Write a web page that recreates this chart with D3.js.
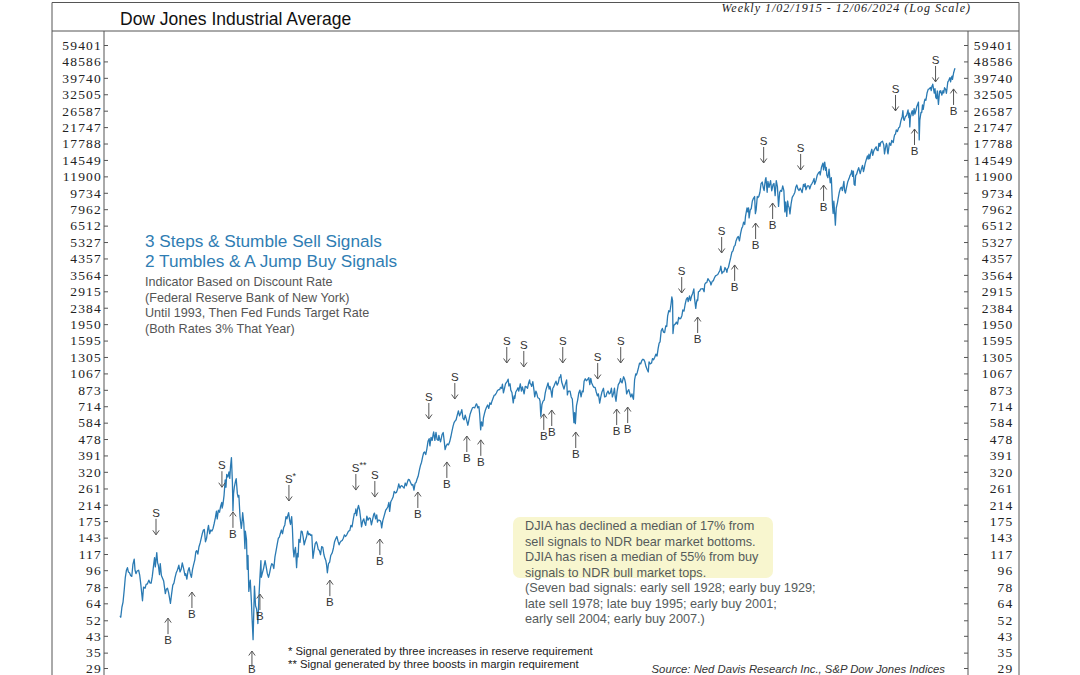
<!DOCTYPE html>
<html><head><meta charset="utf-8">
<script src="https://cdn.jsdelivr.net/npm/d3@7"></script>
<style>body{margin:0;background:#fff}svg{display:block}</style>
</head><body>
<svg id="c" width="1080" height="675"></svg>
<script>
const yTickLabels = [59401,48586,39740,32505,26587,21747,17788,14549,11900,9734,7962,6512,5327,4357,3564,2915,2384,1950,1595,1305,1067,873,714,584,478,391,320,261,214,175,143,117,96,78,64,52,43,35,29];

const djiaEarly = [
[1915.0,55],[1915.1,54],[1915.25,61],[1915.4,65],[1915.55,75],[1915.7,88],[1915.85,96],[1915.98,99],
[1916.1,94],[1916.25,93],[1916.4,90],[1916.55,89],[1916.7,103],[1916.87,110],[1916.98,96],
[1917.1,92],[1917.25,95],[1917.45,96],[1917.6,90],[1917.75,80],[1917.96,66],
[1918.1,78],[1918.3,77],[1918.45,81],[1918.6,81],[1918.8,85],[1918.95,82],
[1919.1,82],[1919.25,89],[1919.45,104],[1919.55,112],[1919.65,100],[1919.84,119],[1919.95,105],
[1920.05,102],[1920.2,91],[1920.3,104],[1920.45,90],[1920.6,87],[1920.75,84],[1920.97,72],
[1921.1,76],[1921.25,77],[1921.4,73],[1921.5,69],[1921.64,64],[1921.8,72],[1921.95,80],
[1922.1,82],[1922.25,88],[1922.4,93],[1922.55,96],[1922.75,102],[1922.9,94],
[1923.05,97],[1923.2,105],[1923.4,97],[1923.55,90],[1923.65,92],[1923.8,86],[1923.95,95],
[1924.1,99],[1924.25,92],[1924.4,88],[1924.55,97],[1924.7,103],[1924.85,109],[1924.98,120],
[1925.1,122],[1925.25,117],[1925.4,128],[1925.55,134],[1925.7,142],[1925.85,151],[1925.98,157],
[1926.1,158],[1926.25,136],[1926.4,142],[1926.55,158],[1926.65,166],[1926.8,150],[1926.95,157],
[1927.1,155],[1927.25,160],[1927.4,170],[1927.55,182],[1927.7,198],[1927.8,180],[1927.95,200],
[1928.1,195],[1928.25,210],[1928.4,220],[1928.45,205],[1928.55,214],[1928.7,240],[1928.85,290],[1928.95,265],
[1929.05,310],[1929.2,300],[1929.35,320],[1929.45,295],[1929.55,340],[1929.67,381],[1929.8,280],[1929.87,199],[1929.95,245],
[1930.05,265],[1930.2,285],[1930.3,294],[1930.45,245],[1930.55,235],[1930.65,240],[1930.8,185],[1930.97,160],
[1931.05,170],[1931.15,194],[1931.3,170],[1931.45,125],[1931.5,155],[1931.65,140],[1931.75,97],[1931.85,115],[1931.96,74],
[1932.05,80],[1932.15,85],[1932.3,65],[1932.4,52],[1932.52,41],[1932.7,79],[1932.85,62],[1932.97,60],
[1933.1,55],[1933.15,50],[1933.3,70],[1933.4,85],[1933.55,108],[1933.6,88],[1933.75,93],[1933.9,98],
[1934.1,108],[1934.25,100],[1934.4,92],[1934.55,88],[1934.7,93],[1934.85,100],[1934.98,104],
[1935.1,103],[1935.25,98],[1935.4,113],[1935.55,122],[1935.7,132],[1935.85,142],[1935.98,144],
[1936.1,150],[1936.25,157],[1936.4,150],[1936.55,162],[1936.7,167],[1936.85,185],[1936.98,180],
[1937.1,188],[1937.2,194],[1937.35,175],[1937.45,168],[1937.6,185],[1937.7,160],[1937.8,125],[1937.9,113],[1937.98,121],
[1938.1,127],[1938.25,99],[1938.35,118],[1938.45,113],[1938.55,140],[1938.7,135],[1938.85,155],[1938.98,154],
[1939.1,145],[1939.25,131],[1939.4,138],[1939.55,144],[1939.7,155],[1939.85,148],[1939.98,150]
];

const djiaMid = [
[1940.1,147],[1940.25,148],[1940.4,111],[1940.55,122],[1940.7,133],[1940.85,136],[1940.98,131],
[1941.1,124],[1941.25,122],[1941.4,116],[1941.55,128],[1941.7,127],[1941.85,116],[1941.98,111],
[1942.1,108],[1942.2,102],[1942.3,93],[1942.45,104],[1942.6,106],[1942.75,115],[1942.95,119],
[1943.1,126],[1943.25,136],[1943.4,141],[1943.55,145],[1943.7,137],[1943.85,131],[1943.98,135],
[1944.1,137],[1944.25,138],[1944.4,142],[1944.55,148],[1944.7,145],[1944.85,148],[1944.98,152],
[1945.1,155],[1945.25,156],[1945.4,166],[1945.55,163],[1945.7,178],[1945.85,192],[1945.98,193],
[1946.05,203],[1946.15,187],[1946.3,205],[1946.4,212],[1946.55,200],[1946.7,178],[1946.8,163],[1946.95,175],
[1947.1,180],[1947.2,172],[1947.35,166],[1947.5,186],[1947.65,177],[1947.8,182],[1947.95,181],
[1948.1,167],[1948.25,178],[1948.4,190],[1948.5,193],[1948.65,180],[1948.8,189],[1948.9,173],[1948.98,177],
[1949.1,177],[1949.25,176],[1949.35,173],[1949.45,161],[1949.6,176],[1949.75,185],[1949.98,200],
[1950.1,203],[1950.25,208],[1950.4,220],[1950.5,197],[1950.65,222],[1950.8,228],[1950.95,235],
[1951.1,252],[1951.25,247],[1951.4,249],[1951.55,259],[1951.7,276],[1951.85,262],[1951.98,269],
[1952.1,270],[1952.25,266],[1952.4,262],[1952.55,279],[1952.7,270],[1952.85,283],[1952.98,292],
[1953.1,290],[1953.25,281],[1953.4,272],[1953.55,274],[1953.7,256],[1953.85,278],[1953.98,281],
[1954.1,292],[1954.25,303],[1954.4,325],[1954.55,345],[1954.7,360],[1954.85,385],[1954.98,404],
[1955.1,408],[1955.25,395],[1955.4,424],[1955.55,465],[1955.7,480],[1955.8,440],[1955.95,488],
[1956.1,470],[1956.25,512],[1956.3,521],[1956.45,470],[1956.6,518],[1956.75,475],[1956.9,470],[1956.98,500],
[1957.1,475],[1957.2,462],[1957.4,505],[1957.55,518],[1957.7,460],[1957.8,420],[1957.95,440],
[1958.1,450],[1958.25,445],[1958.4,462],[1958.55,490],[1958.7,525],[1958.85,560],[1958.98,584],
[1959.1,595],[1959.25,605],[1959.4,640],[1959.55,675],[1959.7,635],[1959.85,655],[1959.98,679],
[1960.0,685],[1960.15,618],[1960.3,605],[1960.45,640],[1960.6,610],[1960.8,566],[1960.98,615],
[1961.1,650],[1961.25,675],[1961.4,700],[1961.55,705],[1961.7,700],[1961.9,735],[1961.98,731],
[1962.1,700],[1962.25,712],[1962.35,650],[1962.48,535],[1962.6,590],[1962.75,560],[1962.85,620],[1962.98,652],
[1963.1,680],[1963.25,705],[1963.4,725],[1963.55,695],[1963.7,745],[1963.85,730],[1963.98,762],
[1964.1,785],[1964.25,815],[1964.4,820],[1964.55,840],[1964.7,865],[1964.85,875],[1964.98,874],
[1965.1,900],[1965.25,890],[1965.35,935],[1965.48,840],[1965.6,880],[1965.75,940],[1965.9,960],[1965.98,969],
[1966.1,995],[1966.2,915],[1966.35,940],[1966.45,870],[1966.6,845],[1966.77,744],[1966.9,810],[1966.98,786],
[1967.1,850],[1967.25,870],[1967.4,895],[1967.5,860],[1967.7,940],[1967.85,860],[1967.98,905],
[1968.1,865],[1968.2,830],[1968.35,910],[1968.5,905],[1968.65,890],[1968.8,950],[1968.93,985],[1968.98,944],
[1969.1,935],[1969.2,910],[1969.35,965],[1969.5,870],[1969.6,800],[1969.75,860],[1969.85,840],[1969.98,800]
];

const djiaLate = [
[1970.05,790],[1970.2,785],[1970.3,760],[1970.4,631],[1970.55,730],[1970.7,760],[1970.85,770],[1970.98,839],
[1971.1,880],[1971.25,920],[1971.35,950],[1971.5,880],[1971.6,910],[1971.75,860],[1971.87,798],[1971.98,890],
[1972.1,905],[1972.25,940],[1972.4,970],[1972.55,925],[1972.7,950],[1972.85,1020],[1972.98,1020],
[1973.03,1051],[1973.15,960],[1973.3,920],[1973.45,880],[1973.6,930],[1973.8,985],[1973.9,820],[1973.98,850],
[1974.1,860],[1974.25,860],[1974.4,800],[1974.55,780],[1974.65,680],[1974.76,584],[1974.85,660],[1974.95,577],
[1975.1,720],[1975.25,770],[1975.4,840],[1975.55,870],[1975.7,800],[1975.85,860],[1975.98,852],
[1976.1,970],[1976.25,1000],[1976.4,975],[1976.55,990],[1976.72,1014],[1976.85,930],[1976.98,1004],
[1977.1,950],[1977.25,920],[1977.4,900],[1977.55,900],[1977.7,850],[1977.85,810],[1977.98,831],
[1978.1,770],[1978.15,742],[1978.3,800],[1978.45,850],[1978.65,890],[1978.8,800],[1978.98,805],
[1979.1,840],[1979.25,860],[1979.4,830],[1979.55,840],[1979.7,890],[1979.82,800],[1979.98,838],
[1980.1,890],[1980.2,800],[1980.3,759],[1980.45,860],[1980.6,930],[1980.8,960],[1980.9,1000],[1980.98,964],
[1981.1,950],[1981.3,1024],[1981.45,990],[1981.55,950],[1981.7,830],[1981.85,860],[1981.98,875],
[1982.1,840],[1982.25,800],[1982.4,830],[1982.5,800],[1982.6,777],[1982.75,990],[1982.9,1060],[1982.98,1046],
[1983.1,1080],[1983.25,1140],[1983.4,1210],[1983.55,1200],[1983.7,1250],[1983.85,1270],[1983.98,1259],
[1984.1,1230],[1984.25,1160],[1984.4,1120],[1984.55,1086],[1984.65,1230],[1984.8,1200],[1984.98,1212],
[1985.1,1280],[1985.25,1260],[1985.4,1300],[1985.55,1350],[1985.7,1320],[1985.85,1450],[1985.98,1547],
[1986.1,1570],[1986.25,1800],[1986.4,1850],[1986.55,1770],[1986.7,1760],[1986.85,1910],[1986.98,1896],
[1987.1,2160],[1987.25,2300],[1987.4,2270],[1987.55,2500],[1987.65,2722],[1987.75,2600],[1987.8,1738],[1987.9,1900],[1987.98,1939],
[1988.1,1950],[1988.25,2000],[1988.4,1950],[1988.55,2120],[1988.7,2080],[1988.85,2100],[1988.98,2169],
[1989.1,2320],[1989.25,2290],[1989.4,2480],[1989.55,2640],[1989.7,2700],[1989.8,2570],[1989.98,2753],
[1990.1,2600],[1990.25,2750],[1990.4,2850],[1990.55,2999],[1990.65,2650],[1990.8,2365],[1990.9,2550],[1990.98,2634],
[1991.05,2600],[1991.15,2900],[1991.3,2920],[1991.45,3000],[1991.6,3000],[1991.75,3010],[1991.9,2900],[1991.98,3169],
[1992.1,3230],[1992.25,3240],[1992.4,3400],[1992.55,3330],[1992.7,3270],[1992.8,3150],[1992.98,3301],
[1993.1,3310],[1993.25,3430],[1993.4,3520],[1993.55,3550],[1993.7,3580],[1993.85,3680],[1993.98,3754],
[1994.1,3970],[1994.25,3620],[1994.35,3700],[1994.5,3700],[1994.65,3900],[1994.8,3800],[1994.9,3680],[1994.98,3834],
[1995.1,3900],[1995.25,4150],[1995.4,4400],[1995.55,4700],[1995.7,4780],[1995.85,5050],[1995.98,5117],
[1996.1,5400],[1996.25,5600],[1996.4,5700],[1996.55,5400],[1996.7,5900],[1996.85,6300],[1996.98,6448],
[1997.1,6800],[1997.25,6600],[1997.35,7300],[1997.55,8100],[1997.65,7700],[1997.75,8100],[1997.82,7161],[1997.98,7908],
[1998.1,8000],[1998.25,8800],[1998.4,9100],[1998.55,9300],[1998.65,7539],[1998.75,7900],[1998.9,9300],[1998.98,9181],
[1999.1,9300],[1999.25,9800],[1999.4,10900],[1999.55,11100],[1999.7,10300],[1999.8,10000],[1999.9,10900],[1999.98,11497]
];

const djiaRecent = [
[2000.04,11722],[2000.2,9796],[2000.3,11200],[2000.45,10400],[2000.65,11300],[2000.8,9975],[2000.98,10788],
[2001.1,10900],[2001.25,9400],[2001.4,11300],[2001.55,10500],[2001.7,8235],[2001.85,9800],[2001.98,10022],
[2002.1,9900],[2002.25,10600],[2002.4,10000],[2002.53,7702],[2002.65,8700],[2002.78,7286],[2002.9,8800],[2002.98,8342],
[2003.1,8100],[2003.2,7524],[2003.35,8500],[2003.5,9200],[2003.7,9500],[2003.85,9800],[2003.98,10454],
[2004.1,10700],[2004.25,10200],[2004.4,10000],[2004.55,10300],[2004.7,10000],[2004.8,9750],[2004.98,10783],
[2005.1,10500],[2005.2,10900],[2005.3,10100],[2005.5,10600],[2005.7,10600],[2005.8,10200],[2005.98,10718],
[2006.1,10900],[2006.25,11200],[2006.38,11600],[2006.45,10800],[2006.6,11200],[2006.8,12100],[2006.98,12463],
[2007.1,12600],[2007.18,12100],[2007.35,13300],[2007.55,14000],[2007.62,12900],[2007.78,14164],[2007.9,12800],[2007.98,13265],
[2008.05,12100],[2008.2,11700],[2008.35,13000],[2008.5,11000],[2008.65,11700],[2008.8,8400],[2008.89,7552],[2008.98,8776],
[2009.05,8000],[2009.18,6547],[2009.3,8100],[2009.45,8600],[2009.55,9100],[2009.7,9800],[2009.85,10300],[2009.98,10428],
[2010.1,10000],[2010.3,11200],[2010.4,10000],[2010.5,9686],[2010.65,10400],[2010.8,11100],[2010.98,11578],
[2011.1,12000],[2011.25,12300],[2011.34,12810],[2011.45,11900],[2011.55,12700],[2011.65,10800],[2011.77,10655],[2011.85,12000],[2011.98,12218],
[2012.1,12700],[2012.25,13250],[2012.45,12300],[2012.6,13000],[2012.75,13600],[2012.88,12600],[2012.98,13104],
[2013.1,13900],[2013.25,14600],[2013.4,15300],[2013.5,14700],[2013.6,15600],[2013.7,14800],[2013.85,15900],[2013.98,16577],
[2014.1,15400],[2014.25,16300],[2014.4,16700],[2014.55,17100],[2014.65,16400],[2014.8,16300],[2014.9,17800],[2014.98,17823],
[2015.05,17200],[2015.15,18000],[2015.38,18312],[2015.55,17500],[2015.65,15666],[2015.8,17000],[2015.9,17800],[2015.98,17425],
[2016.05,16000],[2016.11,15660],[2016.3,17900],[2016.48,17400],[2016.6,18500],[2016.8,18000],[2016.9,19100],[2016.98,19763],
[2017.1,20000],[2017.2,21000],[2017.35,20600],[2017.5,21500],[2017.65,21800],[2017.8,23400],[2017.9,24200],[2017.98,24719],
[2018.07,26616],[2018.15,24000],[2018.25,23600],[2018.4,24800],[2018.55,25000],[2018.75,26828],[2018.85,24400],[2018.92,25800],[2018.98,21792],
[2019.05,24500],[2019.2,25900],[2019.3,26600],[2019.4,25000],[2019.55,27300],[2019.65,25500],[2019.8,26800],[2019.9,28000],[2019.98,28538],
[2020.05,28900],[2020.12,29551],[2020.22,18591],[2020.3,23700],[2020.45,26000],[2020.55,26000],[2020.65,28500],[2020.75,27000],[2020.9,29800],[2020.98,30606],
[2021.1,30200],[2021.25,33000],[2021.4,34500],[2021.55,34800],[2021.7,35300],[2021.8,34000],[2021.9,36000],[2021.98,36338],
[2022.0,36800],[2022.2,33000],[2022.3,34800],[2022.4,31300],[2022.5,30800],[2022.6,33900],[2022.75,28725],[2022.9,33800],[2022.98,33147],
[2023.05,34000],[2023.2,32200],[2023.35,34000],[2023.45,33000],[2023.55,35200],[2023.7,34500],[2023.8,32900],[2023.9,35400],[2023.98,37690],
[2024.1,38500],[2024.25,39800],[2024.35,37800],[2024.45,39900],[2024.55,40600],[2024.6,39000],[2024.75,42300],[2024.85,43700],[2024.93,44642]
];

// Signal dates (decimal year) and index level at the arrow tip
const sellSignals = [
{t:1919.74,v:148,mark:""},{t:1928.42,v:265,mark:""},{t:1937.24,v:224,mark:"*"},{t:1946.05,v:256,mark:"**"},
{t:1948.55,v:235,mark:""},{t:1955.66,v:611,mark:""},{t:1959.08,v:780,mark:""},{t:1965.92,v:1212,mark:""},
{t:1968.16,v:1154,mark:""},{t:1973.29,v:1212,mark:""},{t:1977.89,v:996,mark:""},{t:1980.92,v:1212,mark:""},
{t:1988.95,v:2855,mark:""},{t:1994.21,v:4660,mark:""},{t:1999.74,v:14020,mark:""},{t:2004.61,v:12870,mark:""},
{t:2017.1,v:26500,mark:""},{t:2022.37,v:37800,mark:""}
];
const buySignals = [
{t:1921.32,v:53.4},{t:1924.47,v:73.5},{t:1929.87,v:196},{t:1932.37,v:35.7},{t:1933.42,v:71.7},
{t:1942.63,v:85},{t:1949.21,v:140.6},{t:1954.21,v:250},{t:1958.03,v:361},{t:1960.66,v:496},
{t:1962.5,v:473},{t:1970.79,v:650},{t:1971.84,v:682},{t:1975.0,v:521},{t:1980.39,v:690},
{t:1981.84,v:707},{t:1991.05,v:2128},{t:1995.92,v:4024},{t:1998.68,v:6723},{t:2000.92,v:8590},
{t:2007.63,v:10700},{t:2019.6,v:21250},{t:2024.74,v:34700}
];

const titleText = "Dow Jones Industrial Average";
const subtitleText = "Weekly 1/02/1915 - 12/06/2024 (Log Scale)";
const headLines = ["3 Steps & Stumble Sell Signals","2 Tumbles & A Jump Buy Signals"];
const noteLines = ["Indicator Based on Discount Rate","(Federal Reserve Bank of New York)","Until 1993, Then Fed Funds Target Rate","(Both Rates 3% That Year)"];
const boxLines = ["DJIA has declined a median of 17% from","sell signals to NDR bear market bottoms.","DJIA has risen a median of 55% from buy","signals to NDR bull market tops."];
const badLines = ["(Seven bad signals: early sell 1928; early buy 1929;","late sell 1978; late buy 1995; early buy 2001;","early sell 2004; early buy 2007.)"];
const footLines = ["* Signal generated by three increases in reserve requirement","** Signal generated by three boosts in margin requirement"];
const sourceText = "Source: Ned Davis Research Inc., S&P Dow Jones Indices";

const series = djiaEarly.concat(djiaMid, djiaLate, djiaRecent);

const svg = d3.select("#c");
const W = 1080, H = 675;
const frameL = 52, frameR = 1019, frameT = 2.5, headB = 31;
const plotL = 104, plotR = 968;
const sans = "'Liberation Sans', Arial, Helvetica, sans-serif";
const serif = "'Liberation Serif', 'Times New Roman', serif";

const x = d3.scaleLinear().domain([1915.0, 2024.93]).range([120, 955]);
const y = d3.scaleLog().domain([29, 59401]).range([668, 45]);

// frame
const fr = svg.append("g").attr("stroke","#555").attr("stroke-width",1).attr("fill","none");
fr.append("line").attr("x1",frameL).attr("x2",frameR).attr("y1",frameT).attr("y2",frameT);
fr.append("line").attr("x1",frameL).attr("x2",frameR).attr("y1",headB).attr("y2",headB);
fr.append("line").attr("x1",frameL).attr("x2",frameL).attr("y1",frameT).attr("y2",H);
fr.append("line").attr("x1",frameR).attr("x2",frameR).attr("y1",frameT).attr("y2",H);
fr.append("line").attr("x1",plotL).attr("x2",plotL).attr("y1",headB).attr("y2",H);
fr.append("line").attr("x1",plotR).attr("x2",plotR).attr("y1",headB).attr("y2",H);

svg.append("text").attr("x",120).attr("y",25).attr("font-family",sans).attr("font-size",17.5)
  .attr("fill","#111").text(titleText);
svg.append("text").attr("x",971).attr("y",11.5).attr("text-anchor","end").attr("font-family",serif)
  .attr("font-style","italic").attr("font-size",12).attr("letter-spacing",1).attr("fill","#222").text(subtitleText);

// axes
const axL = d3.axisLeft(y).tickValues(yTickLabels).tickFormat(d3.format("d")).tickSize(-4).tickPadding(5);
const axR = d3.axisRight(y).tickValues(yTickLabels).tickFormat(d3.format("d")).tickSize(-4).tickPadding(5);
const gL = svg.append("g").attr("transform",`translate(${plotL},0)`).call(axL);
const gR = svg.append("g").attr("transform",`translate(${plotR},0)`).call(axR);
[gL,gR].forEach(g=>{
  g.select(".domain").remove();
  g.selectAll(".tick line").attr("stroke","#555");
  g.selectAll(".tick text").attr("font-family",serif).attr("font-size",13.5).attr("letter-spacing",1.2).attr("fill","#222");
});
gL.selectAll(".tick text").attr("x",-2);
gR.selectAll(".tick text").attr("text-anchor","end").attr("x",45.5);

// clip
svg.append("clipPath").attr("id","pc").append("rect").attr("x",plotL).attr("y",headB).attr("width",plotR-plotL).attr("height",H-headB);

// line
const line = d3.line().x(d=>x(d[0])).y(d=>y(d[1]));
svg.append("path").datum(series).attr("clip-path","url(#pc)").attr("d",line)
  .attr("fill","none").attr("stroke","#2a7ab3").attr("stroke-width",1.3).attr("stroke-linejoin","round");

// signals
const sg = svg.append("g").attr("clip-path","url(#pc)");
sellSignals.forEach(s=>{
  const px = x(s.t), tip = y(s.v);
  sg.append("path").attr("d",`M${px},${tip-16}L${px},${tip}M${px-3.2},${tip-4.5}L${px},${tip}L${px+3.2},${tip-4.5}`)
    .attr("stroke","#555").attr("stroke-width",1).attr("fill","none");
  const t = sg.append("text").attr("x",px).attr("y",tip-18).attr("text-anchor","middle")
    .attr("font-family",sans).attr("font-size",11.5).attr("fill","#333");
  t.append("tspan").text("S");
  if (s.mark) t.append("tspan").attr("dy",-4).attr("font-size",9).text(s.mark);
  if (s.mark) t.attr("text-anchor","start").attr("x",px-4);
});
buySignals.forEach(b=>{
  const px = x(b.t), tip = y(b.v);
  const off = Math.min(26, H - 2 - tip);
  sg.append("path").attr("d",`M${px},${tip+16}L${px},${tip}M${px-3.2},${tip+4.5}L${px},${tip}L${px+3.2},${tip+4.5}`)
    .attr("stroke","#555").attr("stroke-width",1).attr("fill","none");
  sg.append("text").attr("x",px).attr("y",tip+off).attr("text-anchor","middle")
    .attr("font-family",sans).attr("font-size",11.5).attr("fill","#333").text("B");
});

// annotations
svg.append("g").selectAll("text").data(headLines).join("text")
  .attr("x",145).attr("y",(d,i)=>247+i*20).attr("font-family",sans).attr("font-size",17.2).attr("fill","#2f7db3").text(d=>d);
svg.append("g").selectAll("text").data(noteLines).join("text")
  .attr("x",145).attr("y",(d,i)=>286+i*15.6).attr("font-family",sans).attr("font-size",12.6).attr("fill","#555").text(d=>d);

svg.append("rect").attr("x",513).attr("y",517).attr("width",260).attr("height",61).attr("rx",7)
  .attr("fill","#f8f6cf");
svg.append("g").selectAll("text").data(boxLines.concat(badLines)).join("text")
  .attr("x",525).attr("y",(d,i)=>530+i*15.5).attr("font-family",sans).attr("font-size",12.7).attr("fill","#555b5b").text(d=>d);

svg.append("g").selectAll("text").data(footLines).join("text")
  .attr("x",288).attr("y",(d,i)=>655+i*12.5).attr("font-family",sans).attr("font-size",11.3).attr("fill","#222").text(d=>d);
svg.append("text").attr("x",945).attr("y",673).attr("text-anchor","end").attr("font-family",sans)
  .attr("font-style","italic").attr("font-size",11.3).attr("fill","#333").text(sourceText);
</script>
</body></html>
